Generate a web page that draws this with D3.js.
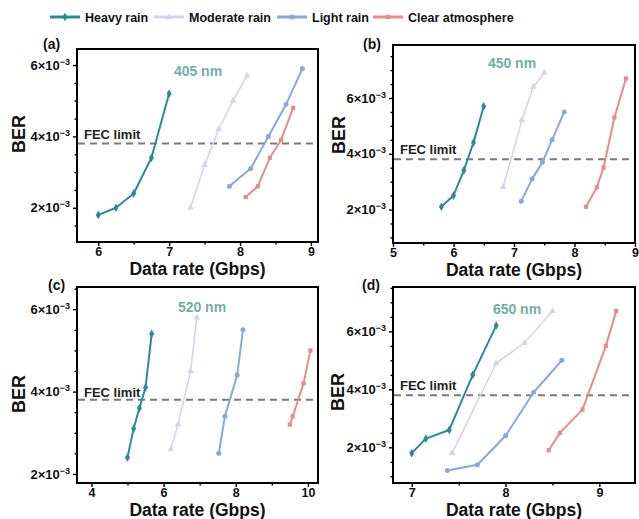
<!DOCTYPE html>
<html><head><meta charset="utf-8">
<script src="https://cdn.jsdelivr.net/npm/d3@7"></script>
<style>
body{margin:0;background:#fff}
text{font-family:"Liberation Sans",Arial,sans-serif;font-weight:bold}
</style>
</head><body>
<svg id="fig" width="639" height="519"></svg>
<script>
// Series shown in every panel
const seriesNames = ["Heavy rain", "Moderate rain", "Light rain", "Clear atmosphere"];
const seriesColors = ["#2b8c96", "#d9d1f1", "#86aadb", "#ea8a8c"];
const seriesShapes = ["diamond", "triangle", "circle", "square"];
const wavelengths = ["405 nm", "450 nm", "520 nm", "650 nm"];
const panelTags = ["(a)", "(b)", "(c)", "(d)"];
const fecLimit = 3.8; // BER, in units of 1e-3

// [data rate (Gbps), BER (×10^-3)]
const heavy405    = [[6.0,1.8],[6.25,2.0],[6.5,2.4],[6.75,3.4],[7.0,5.2]];
const moderate405 = [[7.3,2.0],[7.5,3.2],[7.7,4.2],[7.9,5.0],[8.1,5.7]];
const light405    = [[7.85,2.6],[8.15,3.1],[8.4,4.0],[8.65,4.9],[8.88,5.9]];
const clear405    = [[8.08,2.3],[8.25,2.6],[8.42,3.4],[8.58,3.9],[8.75,4.8]];

const heavy450    = [[5.8,2.1],[6.0,2.5],[6.17,3.4],[6.33,4.4],[6.5,5.7]];
const moderate450 = [[6.82,2.8],[7.13,5.2],[7.32,6.4],[7.5,6.9]];
const light450    = [[7.12,2.3],[7.3,3.1],[7.47,3.7],[7.63,4.5],[7.83,5.5]];
const clear450    = [[8.19,2.1],[8.37,2.8],[8.48,3.5],[8.66,5.3],[8.85,6.7]];

const heavy520    = [[5.0,2.4],[5.17,3.1],[5.33,3.6],[5.5,4.1],[5.67,5.4]];
const moderate520 = [[6.2,2.6],[6.4,3.2],[6.75,4.5],[6.92,5.8]];
const light520    = [[7.53,2.5],[7.7,3.4],[8.04,4.4],[8.2,5.5]];
const clear520    = [[9.5,3.2],[9.58,3.4],[9.88,4.2],[10.07,5.0]];

const heavy650    = [[7.0,1.8],[7.15,2.3],[7.4,2.6],[7.65,4.5],[7.9,6.2]];
const moderate650 = [[7.43,1.8],[7.9,4.9],[8.2,5.6],[8.5,6.7]];
const light650    = [[7.38,1.2],[7.7,1.4],[8.0,2.4],[8.3,3.9],[8.6,5.0]];
const clear650    = [[8.46,1.9],[8.58,2.5],[8.82,3.3],[9.07,5.5],[9.18,6.7]];

const panelData = [
  [heavy405, moderate405, light405, clear405],
  [heavy450, moderate450, light450, clear450],
  [heavy520, moderate520, light520, clear520],
  [heavy650, moderate650, light650, clear650]
];

// Axis ticks
const xTicksA = [6, 7, 8, 9], xTicksB = [5, 6, 7, 8, 9], xTicksC = [4, 6, 8, 10], xTicksD = [7, 8, 9];
const yTicks = [2, 4, 6];

// Panel frames (pixels) and axis extents
const panels = [
  {x0: 77,  x1: 318, y0: 49,  y1: 242, xd: [5.7, 9.1],  yd: [1.04, 6.45], xt: xTicksA, xm: 0.5, fecDy: 5, berY: 134, tag: [43, 49]},
  {x0: 393, x1: 635, y0: 45,  y1: 243, xd: [5, 9],      yd: [0.8, 7.9],   xt: xTicksB, xm: 0.5, fecDy: 5, berY: 135, tag: [363, 49]},
  {x0: 77,  x1: 318, y0: 287, y1: 483, xd: [3.6, 10.28], yd: [1.78, 6.54], xt: xTicksC, xm: 1,   fecDy: 3, berY: 394, tag: [48, 290]},
  {x0: 393, x1: 635, y0: 287, y1: 483, xd: [6.8, 9.38], yd: [0.77, 7.53], xt: xTicksD, xm: 0.5, fecDy: 5, berY: 392, tag: [362, 290]}
];
const waveLabelPos = [[198, 76], [512, 68], [202, 312], [517, 314]];
const berX = [19, 339, 19, 338];

const svg = d3.select("#fig");

const symbolType = {diamond: d3.symbolDiamond, triangle: d3.symbolTriangle, circle: d3.symbolCircle, square: d3.symbolSquare};
const symbolSize = {diamond: 22, triangle: 20, circle: 20, square: 18};
function marker(shape) { return d3.symbol().type(symbolType[shape]).size(symbolSize[shape])(); }

function yLabel(sel, v) {
  sel.text(null);
  sel.append("tspan").text(v + "×10");
  sel.append("tspan").attr("dy", -5).attr("font-size", 9).text("−3");
}

panels.forEach((p, i) => {
  const x = d3.scaleLinear().domain(p.xd).range([p.x0, p.x1]);
  const y = d3.scaleLinear().domain(p.yd).range([p.y1, p.y0]);
  const g = svg.append("g");

  // minor ticks
  const xMinor = d3.range(Math.ceil(p.xd[0] / p.xm) * p.xm, p.xd[1] + 1e-9, p.xm).filter(v => !p.xt.some(t => Math.abs(t - v) < 1e-6));
  const yMinor = d3.range(Math.ceil(p.yd[0] * 2) / 2, p.yd[1] + 1e-9, 0.5).filter(v => !yTicks.some(t => Math.abs(t - v) < 1e-6));

  const xAxis = g.append("g").attr("transform", `translate(0,${p.y1})`)
    .call(d3.axisBottom(x).tickValues(p.xt).tickSize(4).tickPadding(1.5).tickFormat(d3.format("d")));
  g.append("g").attr("transform", `translate(0,${p.y1})`)
    .call(d3.axisBottom(x).tickValues(xMinor).tickSize(2.5).tickFormat(""));
  const yAxis = g.append("g").attr("transform", `translate(${p.x0},0)`)
    .call(d3.axisLeft(y).tickValues(yTicks).tickSize(4).tickPadding(3));
  g.append("g").attr("transform", `translate(${p.x0},0)`)
    .call(d3.axisLeft(y).tickValues(yMinor).tickSize(2.5).tickFormat(""));

  g.selectAll(".domain").remove();
  g.selectAll(".tick line").attr("stroke", "#000").attr("stroke-width", 1.4);
  xAxis.selectAll("text").attr("font-size", 12.5).attr("fill", "#111");
  yAxis.selectAll("text").attr("font-size", 13).attr("fill", "#111").each(function(d) { yLabel(d3.select(this), d); });

  // frame
  g.append("rect").attr("x", p.x0).attr("y", p.y0).attr("width", p.x1 - p.x0).attr("height", p.y1 - p.y0)
    .attr("fill", "none").attr("stroke", "#000").attr("stroke-width", 2);

  // FEC threshold
  g.append("line").attr("x1", p.x0 + 1).attr("x2", p.x1 - 1).attr("y1", y(fecLimit)).attr("y2", y(fecLimit))
    .attr("stroke", "#7a7a7a").attr("stroke-width", 2).attr("stroke-dasharray", "7,5");
  g.append("text").attr("x", p.x0 + 7).attr("y", y(fecLimit) - p.fecDy).attr("font-size", 13).attr("fill", "#222").text("FEC limit");

  // series
  const line = d3.line().x(d => x(d[0])).y(d => y(d[1]));
  panelData[i].forEach((data, s) => {
    g.append("path").datum(data).attr("d", line).attr("fill", "none")
      .attr("stroke", seriesColors[s]).attr("stroke-width", s === 1 ? 1.6 : 2).attr("stroke-linejoin", "round");
    g.selectAll(null).data(data).enter().append("path")
      .attr("d", marker(seriesShapes[s]))
      .attr("transform", d => `translate(${x(d[0])},${y(d[1])})`)
      .attr("fill", seriesColors[s]);
  });

  // labels
  g.append("text").attr("x", waveLabelPos[i][0]).attr("y", waveLabelPos[i][1]).attr("text-anchor", "middle")
    .attr("font-size", 14).attr("fill", "#6fb0a3").text(wavelengths[i]);
  g.append("text").attr("x", p.tag[0]).attr("y", p.tag[1]).attr("font-size", 14).attr("fill", "#111").text(panelTags[i]);
  g.append("text").attr("transform", `translate(${berX[i] + 6},${p.berY}) rotate(-90)`).attr("text-anchor", "middle")
    .attr("font-size", 18).attr("fill", "#111").text("BER");
  g.append("text").attr("x", (p.x0 + p.x1) / 2).attr("y", p.y1 + 33).attr("text-anchor", "middle")
    .attr("font-size", 17.5).attr("fill", "#111").text("Data rate (Gbps)");
});

// legend
const legendX = [50, 154, 277, 373];
const legend = svg.append("g");
seriesNames.forEach((name, s) => {
  const lx = legendX[s];
  legend.append("line").attr("x1", lx).attr("x2", lx + 30).attr("y1", 17).attr("y2", 17)
    .attr("stroke", seriesColors[s]).attr("stroke-width", 3);
  legend.append("path").attr("d", marker(seriesShapes[s])).attr("transform", `translate(${lx + 15},17)`).attr("fill", seriesColors[s]);
  legend.append("text").attr("x", lx + 35).attr("y", 21.5).attr("font-size", 12.5).attr("fill", "#111").text(name);
});
</script>
</body></html>
